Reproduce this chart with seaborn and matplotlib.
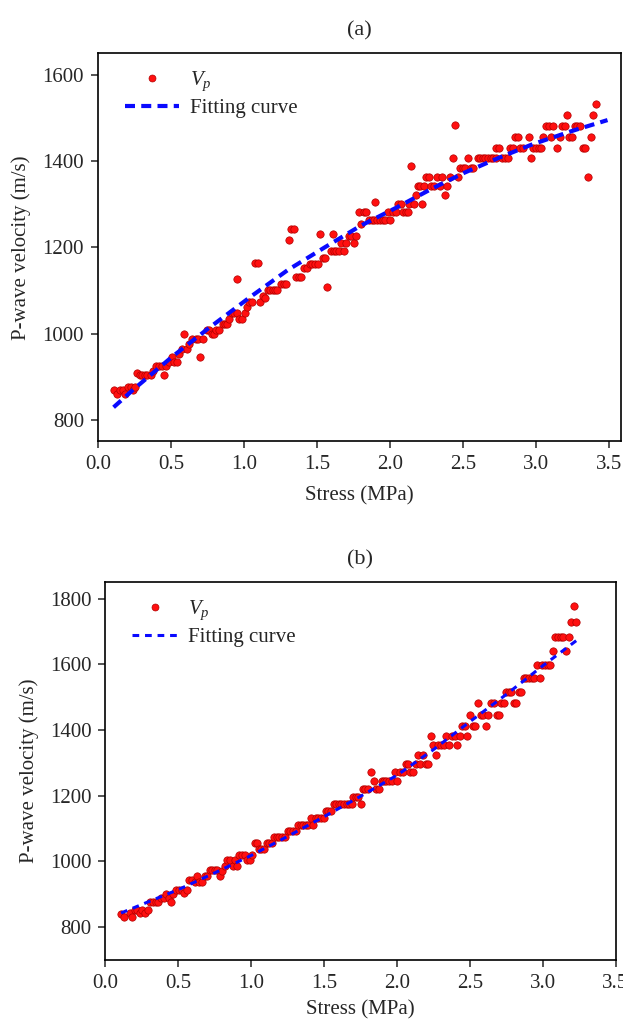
import numpy as np
import pandas as pd
import matplotlib
matplotlib.use("Agg")
import matplotlib.pyplot as plt
import seaborn as sns
from matplotlib.lines import Line2D

stress_a = [0.11, 0.13, 0.155, 0.17, 0.185, 0.205, 0.225, 0.24, 0.255, 0.27, 0.29, 0.305, 0.32, 0.34,
            0.365, 0.38, 0.40, 0.42, 0.44, 0.455, 0.47, 0.49, 0.505, 0.525, 0.54, 0.555, 0.575, 0.59,
            0.61, 0.625, 0.645, 0.67, 0.685, 0.70, 0.72, 0.745, 0.76, 0.78, 0.795, 0.81, 0.83, 0.855,
            0.87, 0.885, 0.90, 0.92, 0.935, 0.95, 0.956, 0.97, 0.99, 1.005, 1.02, 1.035, 1.055, 1.075,
            1.095, 1.11, 1.13, 1.145, 1.165, 1.18, 1.20, 1.215, 1.23, 1.255, 1.275, 1.29, 1.31, 1.325,
            1.345, 1.36, 1.38, 1.395, 1.415, 1.43, 1.45, 1.465, 1.485, 1.505, 1.52, 1.54, 1.555, 1.573,
            1.595, 1.608, 1.615, 1.63, 1.65, 1.665, 1.685, 1.70, 1.72, 1.735, 1.755, 1.77, 1.79, 1.805,
            1.82, 1.84, 1.855, 1.875, 1.89, 1.90, 1.915, 1.935, 1.955, 1.97, 1.985, 2.00, 2.02, 2.04,
            2.055, 2.075, 2.09, 2.11, 2.125, 2.13, 2.145, 2.165, 2.18, 2.195, 2.21, 2.22, 2.235, 2.25,
            2.265, 2.285, 2.30, 2.325, 2.345, 2.36, 2.38, 2.395, 2.415, 2.43, 2.448, 2.465, 2.48, 2.50,
            2.515, 2.535, 2.555, 2.57, 2.605, 2.62, 2.64, 2.655, 2.675, 2.69, 2.71, 2.725, 2.73, 2.75,
            2.77, 2.79, 2.81, 2.825, 2.845, 2.855, 2.875, 2.895, 2.915, 2.95, 2.965, 2.98, 3.00, 3.02,
            3.035, 3.05, 3.07, 3.09, 3.105, 3.12, 3.145, 3.165, 3.18, 3.20, 3.215, 3.23, 3.25, 3.27,
            3.285, 3.305, 3.32, 3.34, 3.36, 3.375, 3.395, 3.414]
vp_a = [868, 859, 868, 868, 859, 876, 876, 868, 876, 908, 904, 904, 904, 904,
        904, 914, 924, 924, 924, 904, 924, 935, 945, 933, 933, 953, 964, 999,
        964, 976, 987, 987, 987, 945, 987, 1008, 1008, 999, 999, 1008, 1008, 1022,
        1022, 1022, 1034, 1047, 1047, 1047, 1126, 1034, 1034, 1047, 1061, 1072, 1072, 1163,
        1163, 1072, 1088, 1082, 1101, 1101, 1101, 1101, 1101, 1115, 1115, 1115, 1217, 1242,
        1242, 1130, 1130, 1130, 1151, 1151, 1161, 1161, 1161, 1161, 1230, 1176, 1176, 1107,
        1192, 1230, 1192, 1192, 1192, 1209, 1192, 1209, 1227, 1227, 1209, 1227, 1281, 1255,
        1281, 1281, 1263, 1263, 1263, 1306, 1263, 1263, 1263, 1263, 1281, 1263, 1281, 1281,
        1301, 1301, 1281, 1281, 1281, 1301, 1389, 1301, 1321, 1341, 1341, 1301, 1341, 1363,
        1363, 1341, 1341, 1363, 1341, 1363, 1321, 1341, 1363, 1408, 1483, 1363, 1385, 1385,
        1385, 1408, 1385, 1385, 1408, 1408, 1408, 1408, 1408, 1408, 1408, 1408, 1431, 1431,
        1408, 1408, 1408, 1431, 1431, 1456, 1456, 1431, 1431, 1456, 1408, 1431, 1431, 1431,
        1431, 1456, 1481, 1481, 1456, 1481, 1431, 1456, 1481, 1481, 1507, 1456, 1456, 1481,
        1481, 1481, 1431, 1431, 1363, 1456, 1507, 1533]
fit_s_a = [0.108, 0.25, 0.505, 0.75, 1.041, 1.3, 1.555, 1.8, 2.045, 2.3, 2.511, 2.75, 2.978, 3.25, 3.491]
fit_v_a = [829, 872, 945, 1010, 1084, 1147, 1200, 1250, 1292, 1338, 1373, 1408, 1439, 1470, 1495]

# (b) measured points
stress_b = [0.108, 0.126, 0.167, 0.185, 0.204, 0.22, 0.24, 0.255, 0.275, 0.29, 0.31, 0.325, 0.345, 0.36,
            0.384, 0.402, 0.418, 0.437, 0.453, 0.465, 0.488, 0.505, 0.523, 0.542, 0.558, 0.575, 0.593,
            0.612, 0.628, 0.645, 0.663, 0.682, 0.698, 0.715, 0.733, 0.752, 0.768, 0.787, 0.803, 0.822,
            0.838, 0.855, 0.873, 0.89, 0.901, 0.92, 0.938, 0.955, 0.97, 0.99, 1.008, 1.025, 1.041,
            1.055, 1.071, 1.088, 1.106, 1.123, 1.141, 1.16, 1.176, 1.195, 1.211, 1.23, 1.251, 1.27,
            1.288, 1.305, 1.321, 1.34, 1.358, 1.375, 1.391, 1.41, 1.428, 1.445, 1.461, 1.48, 1.498,
            1.515, 1.531, 1.55, 1.568, 1.585, 1.601, 1.62, 1.638, 1.655, 1.671, 1.69, 1.701, 1.718,
            1.736, 1.752, 1.766, 1.783, 1.801, 1.822, 1.841, 1.86, 1.876, 1.895, 1.911, 1.928, 1.946,
            1.965, 1.985, 2.002, 2.023, 2.039, 2.062, 2.078, 2.093, 2.112, 2.128, 2.145, 2.161, 2.179,
            2.198, 2.214, 2.233, 2.249, 2.268, 2.284, 2.303, 2.323, 2.338, 2.359, 2.377, 2.396, 2.414,
            2.431, 2.447, 2.466, 2.482, 2.502, 2.522, 2.536, 2.557, 2.575, 2.591, 2.61, 2.626, 2.645,
            2.664, 2.685, 2.70, 2.714, 2.736, 2.75, 2.766, 2.785, 2.801, 2.817, 2.835, 2.854, 2.87,
            2.887, 2.906, 2.924, 2.94, 2.964, 2.98, 2.999, 3.017, 3.034, 3.05, 3.07, 3.086, 3.105,
            3.124, 3.14, 3.157, 3.178, 3.197, 3.215, 3.232]
vp_b = [840, 830, 843, 830, 851, 851, 843, 853, 843, 853, 878, 878, 878, 878,
        888, 888, 901, 888, 876, 901, 914, 914, 914, 903, 914, 942, 942,
        938, 957, 938, 938, 957, 957, 974, 974, 974, 974, 957, 972, 987,
        1003, 1003, 987, 1003, 987, 1020, 1020, 1020, 1005, 1005, 1020, 1055, 1055,
        1038, 1038, 1038, 1055, 1055, 1055, 1073, 1073, 1073, 1073, 1073, 1092, 1092,
        1092, 1092, 1112, 1112, 1112, 1112, 1112, 1132, 1112, 1132, 1132, 1132, 1132,
        1153, 1153, 1153, 1175, 1175, 1175, 1175, 1175, 1175, 1175, 1175, 1197, 1197,
        1197, 1175, 1220, 1220, 1220, 1271, 1246, 1220, 1220, 1246, 1246, 1246, 1246,
        1246, 1271, 1246, 1271, 1271, 1296, 1296, 1271, 1271, 1296, 1325, 1296, 1325,
        1296, 1296, 1383, 1354, 1325, 1354, 1354, 1354, 1383, 1354, 1383, 1383, 1354,
        1383, 1413, 1413, 1383, 1446, 1413, 1413, 1482, 1446, 1446, 1413, 1446, 1482,
        1482, 1446, 1446, 1482, 1482, 1517, 1517, 1517, 1482, 1482, 1517, 1517, 1557,
        1557, 1557, 1557, 1557, 1597, 1557, 1597, 1597, 1597, 1597, 1639, 1683, 1683,
        1683, 1683, 1639, 1683, 1729, 1778, 1729]
fit_s_b = [0.108, 0.3, 0.5, 0.75, 1.0, 1.25, 1.5, 1.75, 2.0, 2.25, 2.5, 2.75, 3.0, 3.252]
fit_v_b = [843, 878, 914, 965, 1018, 1076, 1136, 1198, 1262, 1340, 1425, 1508, 1595, 1679]

sns.set_style("ticks")
plt.rcParams["font.family"] = ["Liberation Serif", "DejaVu Serif"]
plt.rcParams["mathtext.fontset"] = "custom"
plt.rcParams["mathtext.it"] = "Liberation Serif:italic"
plt.rcParams["mathtext.rm"] = "Liberation Serif"

fig = plt.figure(figsize=(6.23, 10.24), dpi=100)
ax1 = fig.add_axes([0.157, 0.569, 0.839, 0.379])
ax2 = fig.add_axes([0.169, 0.0625, 0.819, 0.369])

panels = [
    (ax1, stress_a, vp_a, fit_s_a, fit_v_a, "(a)", (750, 1650), [800, 1000, 1200, 1400, 1600],
     (0, 3.58), 3.0, (2.4, 1.5), 2.6, 9),
    (ax2, stress_b, vp_b, fit_s_b, fit_v_b, "(b)", (700, 1850), [800, 1000, 1200, 1400, 1600, 1800],
     (0, 3.5), 2.2, (2.2, 1.9), 2.2, 5),
]

for ax, s, v, fs, fv, title, ylim, yticks, xlim, lw, dash, hlen, xpad in panels:
    pts = pd.DataFrame({"Stress": s, "Vp": v})
    fit = pd.DataFrame({"Stress": fs, "Vp": fv})
    sns.scatterplot(data=pts, x="Stress", y="Vp", ax=ax, color="#ff1010", edgecolor="#b00000",
                    linewidth=0.5, s=28, zorder=2)
    sns.lineplot(data=fit, x="Stress", y="Vp", ax=ax, color="#0a0aff", linewidth=lw,
                 dashes=False, zorder=3)
    ax.lines[-1].set_dashes(dash)
    ax.set_xlim(*xlim)
    ax.set_ylim(*ylim)
    ax.set_yticks(yticks)
    ax.set_xticks([0.0, 0.5, 1.0, 1.5, 2.0, 2.5, 3.0, 3.5])
    ax.set_xticklabels(["0.0", "0.5", "1.0", "1.5", "2.0", "2.5", "3.0", "3.5"])
    ax.set_xlabel("Stress (MPa)", fontsize=15, labelpad=xpad)
    ax.set_ylabel("P-wave velocity (m/s)", fontsize=15, labelpad=8)
    ax.set_title(title, fontsize=16, pad=13)
    ax.tick_params(axis="both", labelsize=15, direction="out", length=5, width=1.1, pad=5)
    for sp in ax.spines.values():
        sp.set_visible(True)
        sp.set_linewidth(1.2)
        sp.set_color("black")
    handles = [
        Line2D([], [], marker="o", linestyle="none", markerfacecolor="#ff1010",
               markeredgecolor="#b00000", markeredgewidth=0.5, markersize=5),
        Line2D([], [], color="#0a0aff", linewidth=lw, dashes=dash),
    ]
    ax.legend(handles, ["$V_p$", "Fitting curve"], loc="upper left", frameon=False,
              fontsize=15, handlelength=hlen, handletextpad=0.5, borderaxespad=0.4,
              labelspacing=0.25, bbox_to_anchor=(0.02, 1.0))

fig.savefig("out.png", dpi=100)
